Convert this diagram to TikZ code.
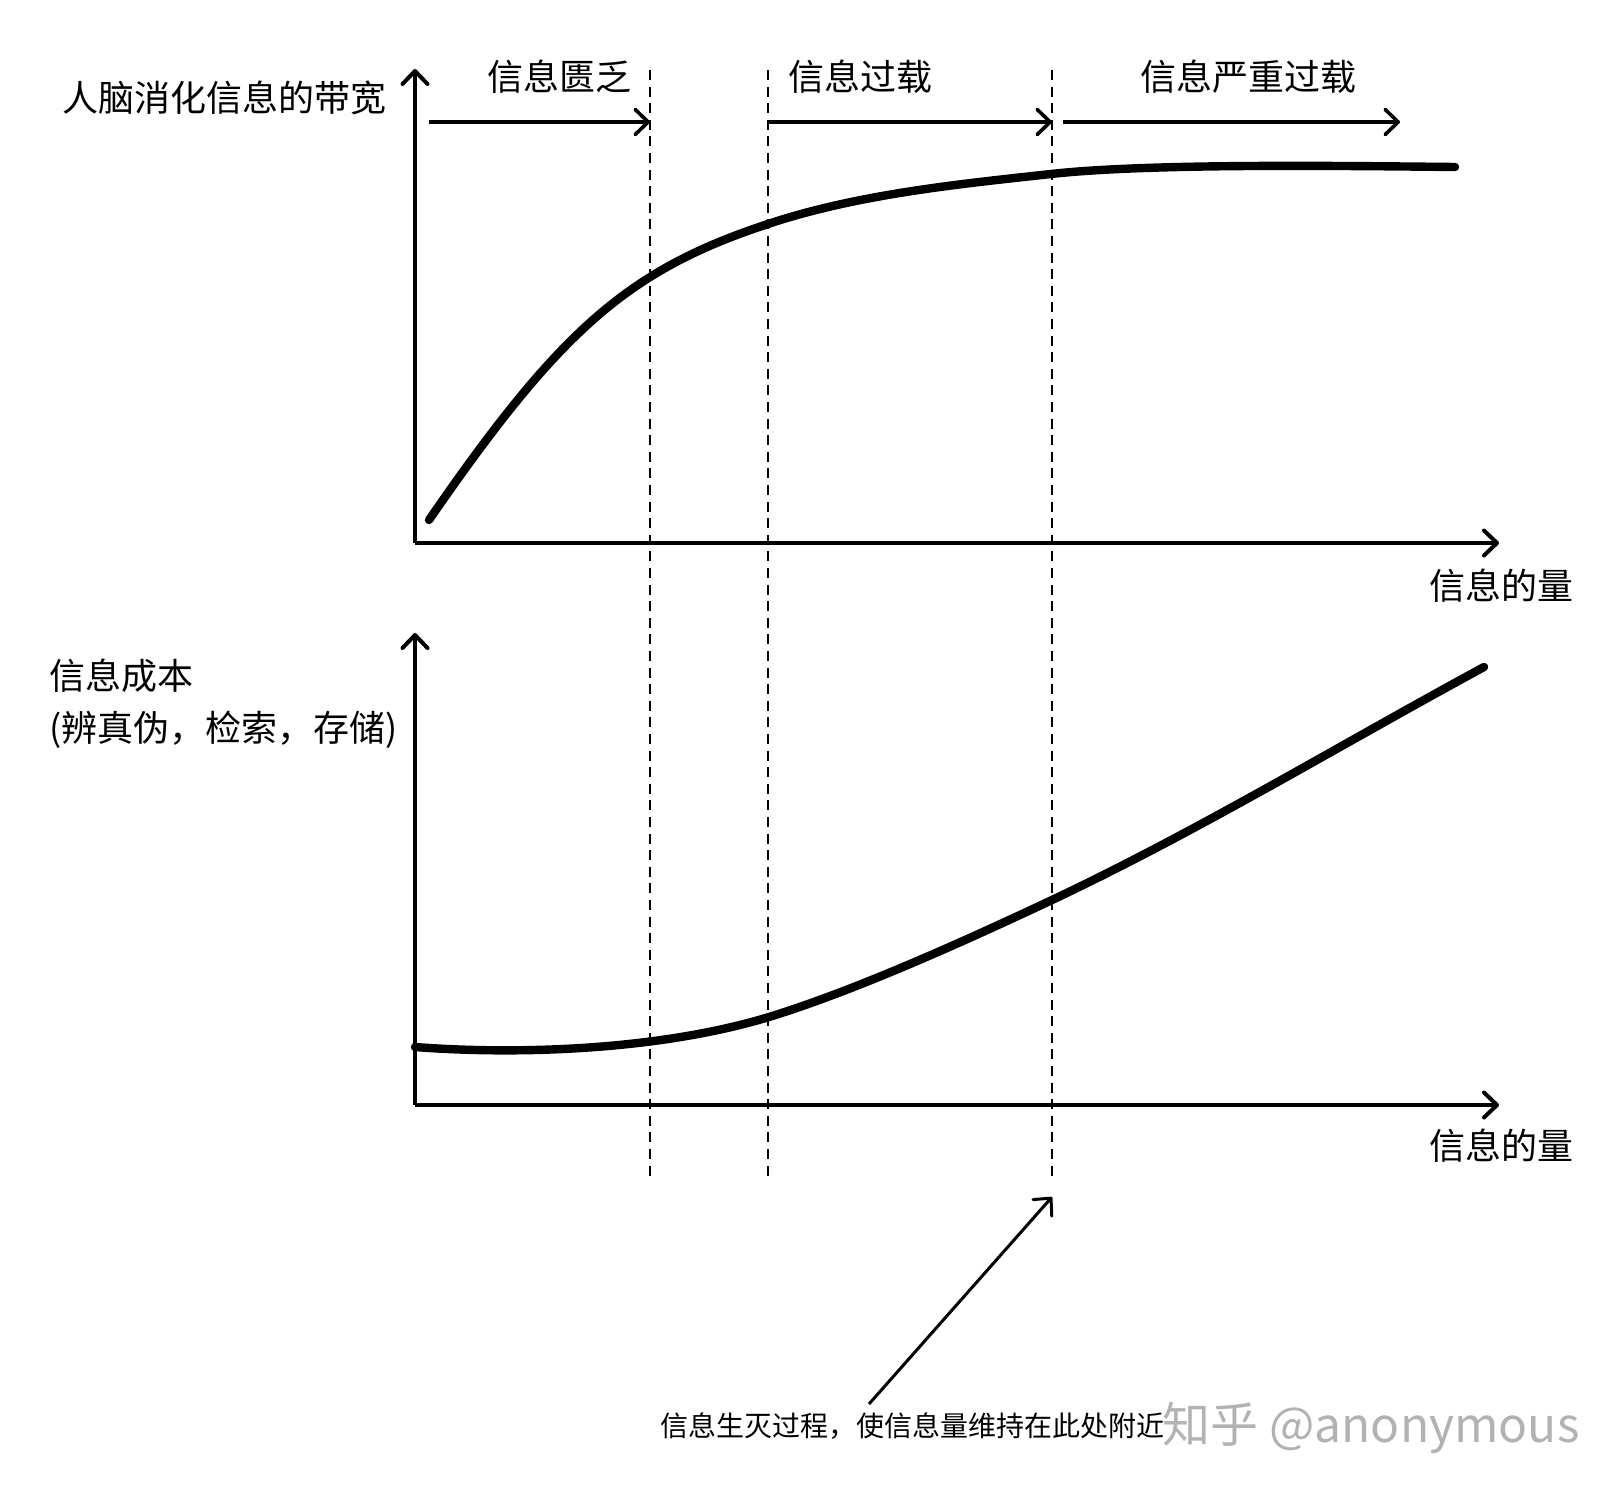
\documentclass[tikz,border=0pt]{standalone}
\usepackage{fontspec}
\newfontfamily\cjk{Noto Sans CJK SC}
\usetikzlibrary{arrows.meta,positioning}

\begin{document}
\begin{tikzpicture}[
        % define styles
        x=0.5pt, y=-0.5pt,
        ax/.style={
            line width=2pt,
            ->
        },
        stage/.style={
            line width=1.8pt,
            ->
        },
        guide/.style={
            line width=1pt,
            dash pattern=on 5pt off 3.3pt
        },
        trend/.style={
            line width=4.2pt,
            line cap=round
        },
        axlabel/.style={
            font=\cjk\fontsize{18pt}{22pt}\selectfont,
            inner sep=0pt
        },
        remark/.style={
            font=\cjk\fontsize{14pt}{17pt}\selectfont,
            inner sep=0pt
        },
        >={Straight Barb[round,length=6.5pt,width=12.5pt]}
    ]
    \useasboundingbox (0,0) rectangle (1622,1498);

    % axes of the upper panel
    \coordinate (o1) at (415,543);
    \coordinate (top1) at (415,69);
    \coordinate (end1) at (1499,543);
    \draw[ax] (o1) -- (top1);
    \draw[ax] (o1) -- (end1);

    % axes of the lower panel
    \coordinate (o2) at (415,1105);
    \coordinate (top2) at (415,633);
    \coordinate (end2) at (1499,1105);
    \draw[ax] (o2) -- (top2);
    \draw[ax] (o2) -- (end2);

    % dashed borders between the stages
    \foreach \n/\x in {poor/650, over/768, severe/1052} {
        \coordinate (\n-top) at (\x,70);
        \coordinate (\n-bot) at (\x,1176);
        \draw[guide] (\n-top) -- (\n-bot);
    }

    % stage arrows and headings
    \coordinate (s1) at (429,122);
    \coordinate (s3) at (1063,122);
    \coordinate (s3e) at (1400,122);
    \draw[stage] (s1) -- (poor-top |- s1);
    \draw[stage] (over-top |- s1) -- (severe-top |- s1);
    \draw[stage] (s3) -- (s3e);

    \node[axlabel] (poor) at (559,77) {信息匮乏};
    \node[axlabel] (over) at (860,77) {信息过载};
    \node[axlabel] (severe) at (1248,77) {信息严重过载};

    % axis labels
    \node[axlabel, anchor=east] (band) at (387,98) {人脑消化信息的带宽};
    \node[axlabel, anchor=west] (cost) at (49,676) {信息成本};
    \node[axlabel, anchor=west] (costsub) at (49,730) {(辨真伪，检索，存储)};
    \node[axlabel, anchor=west] (qty1) at (1429,586) {信息的量};
    \node[axlabel, anchor=west] (qty2) at (1429,1146) {信息的量};

    % curves
    \draw[trend] (429,520) .. controls (560,330) and (628,270) .. (768,224)
        .. controls (858,194) and (960,184) .. (1051,174)
        .. controls (1150,163) and (1350,166) .. (1455,167);
    \draw[trend] (415,1047) .. controls (520,1055) and (660,1050) .. (769,1017)
        .. controls (850,992) and (950,948) .. (1052,900)
        .. controls (1200,830) and (1340,745) .. (1484,667);

    % note on the lower end
    \node[remark] (note) at (912,1426) {信息生灭过程，使信息量维持在此处附近};
    \node[font=\cjk\fontsize{24pt}{28pt}\selectfont, text=black!30,
        inner sep=0pt] (mark) at (1371,1428) {知乎 @anonymous};
    \coordinate (notetip) at (869,1404);
    \coordinate (focus) at (1052,1197);
    \draw[stage, line width=1.5pt] (notetip) -- (focus);

\end{tikzpicture}
\end{document}
